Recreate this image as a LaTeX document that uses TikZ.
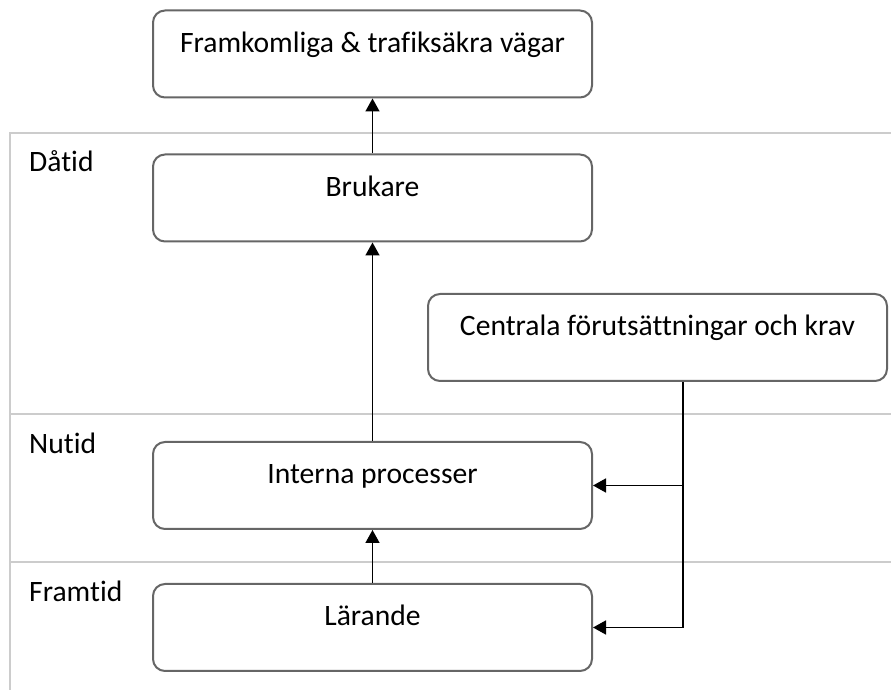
\documentclass[tikz,border=0pt]{standalone}
\usepackage{fontspec}
\setmainfont{Carlito}[Ligatures={NoCommon}]
\usetikzlibrary{arrows.meta}

\begin{document}
\begin{tikzpicture}[x=1pt, y=1pt,
  every node/.style={font=\fontsize{29.6}{35}\selectfont},
  stage/.style={draw=black!60, line width=2pt, rounded corners=12pt,
    inner sep=0pt, minimum height=87pt, text height=42pt, text depth=45pt,
    align=center, fill=white},
  era/.style={anchor=base west, inner sep=0pt},
  band/.style={draw=black!20, line width=1.5pt},
  flow/.style={draw=black, line width=1.6pt,
    -{Triangle[width=14pt,length=13pt]}}
]
\useasboundingbox (0,0) rectangle (891,690);

% time bands
\draw[band] (10,0) -- (10,557) -- (891,557);
\draw[band] (10,276) -- (891,276);
\draw[band] (10,128) -- (891,128);

\node[era] (past) at (29,518) {Dåtid};
\node[era] (now) at (29,236) {Nutid};
\node[era] (future) at (29,88) {Framtid};

% stages
\node[stage, minimum width=439pt] (goal) at (372.5,636) {Framkomliga \& trafiksäkra vägar};
\node[stage, minimum width=439pt, minimum height=86pt] (user) at (372.5,492) {Brukare};
\node[stage, minimum width=459pt] (centr) at (657.5,352.5) {Centrala förutsättningar och krav};
\node[stage, minimum width=439pt] (intern) at (372.5,204.5) {Interna processer};
\node[stage, minimum width=439pt] (learn) at (372.5,62.5) {Lärande};

% connectors
\draw[flow] (user.north) -- (goal.south);
\draw[flow] (intern.north) -- (user.south);
\draw[flow] (learn.north) -- (intern.south);

\coordinate (feed) at (683,0);
\draw[flow] (centr.south -| feed) |- (learn.east);
\draw[flow] (feed |- intern.east) -- (intern.east);
\end{tikzpicture}
\end{document}
